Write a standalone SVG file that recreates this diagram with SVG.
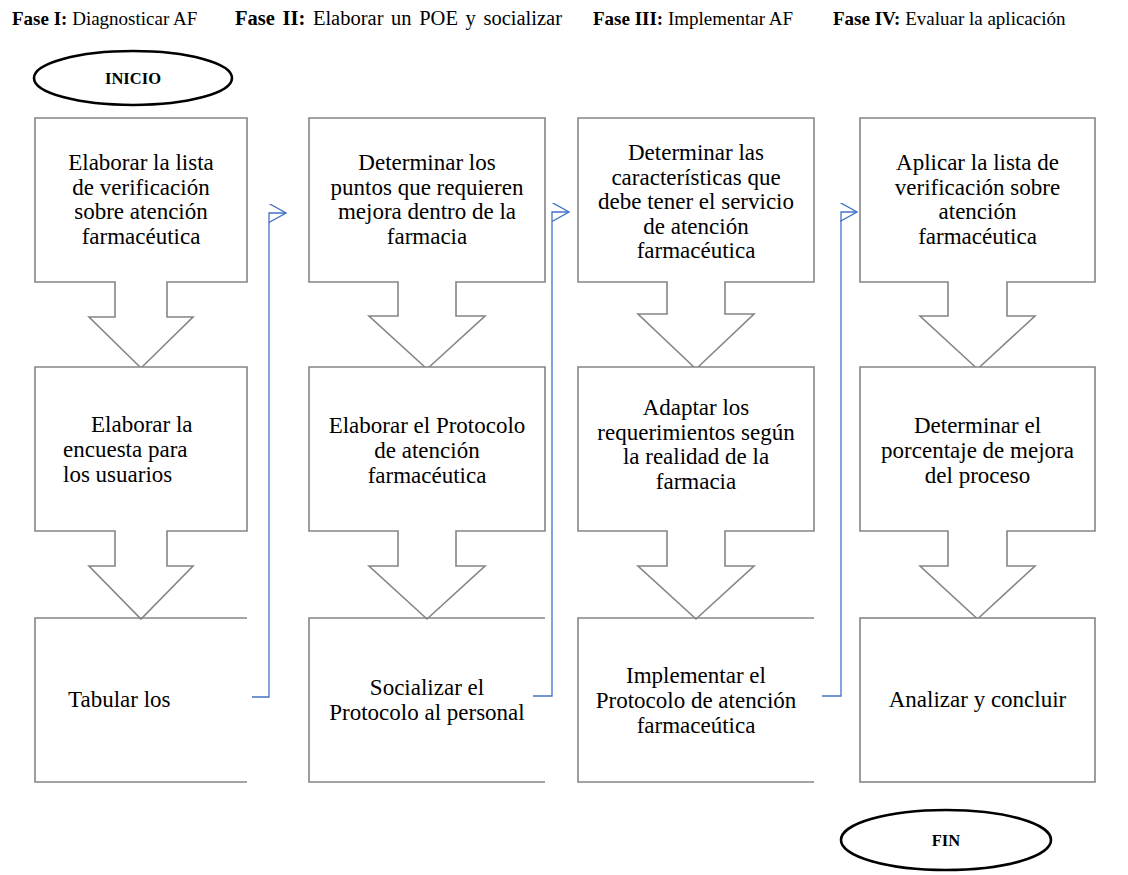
<svg xmlns="http://www.w3.org/2000/svg" width="1128" height="875" viewBox="0 0 1128 875">
  <style>
    text { font-family: "Liberation Serif", serif; }
    .hdr { font-size: 19px; fill: #000; }
    .hdr .b { font-weight: bold; }
    .hdr.wide { font-size: 20.5px; word-spacing: 2.5px; }
    .lbl { font-size: 23px; fill: #000; text-anchor: middle; }
    .lbl.left { text-anchor: start; }
    .box { fill: #fff; stroke: #858585; stroke-width: 1.6; stroke-linejoin: miter; }
    .open { fill: none; stroke: #858585; stroke-width: 1.6; }
    .term { fill: #fff; stroke: #000; stroke-width: 2.6; }
    .termtxt { font-size: 16.5px; font-weight: bold; fill: #000; text-anchor: middle; }
    .conn { fill: none; stroke: #4472C4; stroke-width: 1.3; }
  </style>
  <defs>
    <marker id="vhead" viewBox="0 0 18 20" refX="17" refY="9.5" markerWidth="18" markerHeight="20" markerUnits="userSpaceOnUse" orient="auto">
      <path d="M0,0 L17,9.5 L0,19" fill="none" stroke="#4472C4" stroke-width="1.3"/>
    </marker>
  </defs>

  <!-- phase headings -->
  <g id="headers">
    <text class="hdr" x="12" y="25"><tspan class="b">Fase I:</tspan> Diagnosticar AF</text>
    <text class="hdr wide" x="235" y="25"><tspan class="b">Fase II:</tspan> Elaborar un POE y socializar</text>
    <text class="hdr" x="593" y="25"><tspan class="b">Fase III:</tspan> Implementar AF</text>
    <text class="hdr" x="833" y="25"><tspan class="b">Fase IV:</tspan> Evaluar la aplicación</text>
  </g>

  <!-- start terminator -->
  <g id="inicio">
    <ellipse class="term" cx="133" cy="78" rx="99" ry="27"/>
    <text class="termtxt" x="133" y="84">INICIO</text>
  </g>

  <!-- column 1 -->
  <g id="c1-n1">
    <path class="box" d="M35,118 H247 V282 H167 V317 H193 L141,368 L89,317 H115 V282 H35 Z"/>
    <text class="lbl" x="141" y="170">Elaborar la lista</text>
    <text class="lbl" x="141" y="194.5">de verificación</text>
    <text class="lbl" x="141" y="219">sobre atención</text>
    <text class="lbl" x="141" y="243.5">farmacéutica</text>
  </g>
  <g id="c1-n2">
    <path class="box" d="M35,367 H247 V531 H167 V566 H193 L141,619 L89,566 H115 V531 H35 Z"/>
    <text class="lbl left" x="91" y="432">Elaborar la</text>
    <text class="lbl left" x="63" y="457">encuesta para</text>
    <text class="lbl left" x="63" y="482">los usuarios</text>
  </g>
  <g id="c1-n3">
    <path class="open" d="M247,618 H35 V782 H247"/>
    <text class="lbl left" x="68" y="707">Tabular los</text>
  </g>

  <!-- column 2 -->
  <g id="c2-n1">
    <path class="box" d="M309,118 H545 V282 H456 V316 H485 L427,369 L369,316 H398 V282 H309 Z"/>
    <text class="lbl" x="427" y="170">Determinar los</text>
    <text class="lbl" x="427" y="194.5">puntos que requieren</text>
    <text class="lbl" x="427" y="219">mejora dentro de la</text>
    <text class="lbl" x="427" y="243.5">farmacia</text>
  </g>
  <g id="c2-n2">
    <path class="box" d="M309,367 H545 V531 H456 V566 H485 L427,619 L369,566 H398 V531 H309 Z"/>
    <text class="lbl" x="427" y="433">Elaborar el Protocolo</text>
    <text class="lbl" x="427" y="458">de atención</text>
    <text class="lbl" x="427" y="483">farmacéutica</text>
  </g>
  <g id="c2-n3">
    <path class="open" d="M545,618 H309 V782 H545"/>
    <text class="lbl" x="427" y="695">Socializar el</text>
    <text class="lbl" x="427" y="720">Protocolo al personal</text>
  </g>

  <!-- column 3 -->
  <g id="c3-n1">
    <path class="box" d="M578,118 H814 V282 H725 V314 H754 L696,369 L638,314 H667 V282 H578 Z"/>
    <text class="lbl" x="696" y="160">Determinar las</text>
    <text class="lbl" x="696" y="184.5">características que</text>
    <text class="lbl" x="696" y="209">debe tener el servicio</text>
    <text class="lbl" x="696" y="233.5">de atención</text>
    <text class="lbl" x="696" y="258">farmacéutica</text>
  </g>
  <g id="c3-n2">
    <path class="box" d="M578,367 H814 V531 H725 V566 H754 L696,619 L638,566 H667 V531 H578 Z"/>
    <text class="lbl" x="696" y="415">Adaptar los</text>
    <text class="lbl" x="696" y="439.5">requerimientos según</text>
    <text class="lbl" x="696" y="464">la realidad de la</text>
    <text class="lbl" x="696" y="488.5">farmacia</text>
  </g>
  <g id="c3-n3">
    <path class="open" d="M814,618 H578 V782 H814"/>
    <text class="lbl" x="696" y="683">Implementar el</text>
    <text class="lbl" x="696" y="708">Protocolo de atención</text>
    <text class="lbl" x="696" y="733">farmaceútica</text>
  </g>

  <!-- column 4 -->
  <g id="c4-n1">
    <path class="box" d="M860,118 H1095 V282 H1007 V316 H1035 L977.5,369 L920,316 H948 V282 H860 Z"/>
    <text class="lbl" x="977.5" y="170">Aplicar la lista de</text>
    <text class="lbl" x="977.5" y="194.5">verificación sobre</text>
    <text class="lbl" x="977.5" y="219">atención</text>
    <text class="lbl" x="977.5" y="243.5">farmacéutica</text>
  </g>
  <g id="c4-n2">
    <path class="box" d="M860,367 H1095 V531 H1007 V566 H1035 L977.5,619 L920,566 H948 V531 H860 Z"/>
    <text class="lbl" x="977.5" y="433">Determinar el</text>
    <text class="lbl" x="977.5" y="458">porcentaje de mejora</text>
    <text class="lbl" x="977.5" y="483">del proceso</text>
  </g>
  <g id="c4-n3">
    <rect class="box" x="860" y="618" width="235" height="164"/>
    <text class="lbl" x="977.5" y="707">Analizar y concluir</text>
  </g>

  <!-- end terminator -->
  <g id="fin">
    <ellipse class="term" cx="946" cy="840" rx="105" ry="30"/>
    <text class="termtxt" x="946" y="846">FIN</text>
  </g>

  <!-- phase-to-phase connectors -->
  <g id="connectors">
    <path class="conn" d="M252,697 H269 V213 H286" marker-end="url(#vhead)"/>
    <path class="conn" d="M533,696 H552 V212 H569" marker-end="url(#vhead)"/>
    <path class="conn" d="M822,696 H841 V212 H857" marker-end="url(#vhead)"/>
  </g>
</svg>
